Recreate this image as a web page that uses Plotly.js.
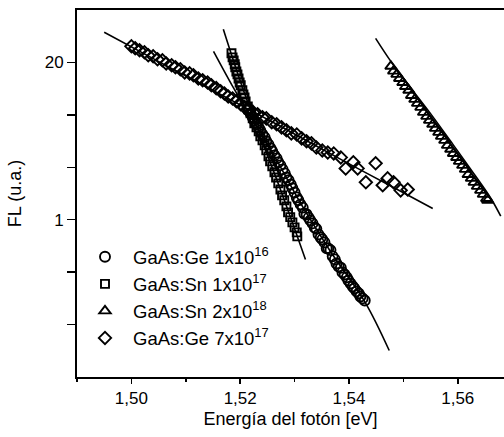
<!DOCTYPE html>
<html>
<head>
<meta charset="utf-8">
<script src="https://cdn.plot.ly/plotly-3.0.1.min.js"></script>
<style>html,body{margin:0;padding:0;background:#fff;}#chart{width:504px;height:437px;}</style>
</head>
<body>
<div id="chart"></div>
<script>
// ---- data ----
const seriesNames = ['GaAs:Ge 1x10<sup>16</sup>', 'GaAs:Sn 1x10<sup>17</sup>', 'GaAs:Sn 2x10<sup>18</sup>', 'GaAs:Ge 7x10<sup>17</sup>'];

// GaAs:Ge 1x10^16 (circles)
const energyGe16 = [1.5215,1.5219,1.5223,1.5226,1.5230,1.5234,1.5237,1.5241,1.5245,1.5248,1.5252,1.5256,1.5259,1.5263,1.5267,1.5270,1.5274,1.5278,1.5282,1.5285,1.5289,1.5293,1.5296,1.5300,1.5304,1.5307,1.5311,1.5315,1.5318,1.5322,1.5326,1.5329,1.5333,1.5337,1.5340,1.5344,1.5348,1.5351,1.5355,1.5359,1.5362,1.5366,1.5370,1.5374,1.5377,1.5381,1.5385,1.5388,1.5392,1.5396,1.5399,1.5403,1.5407,1.5410,1.5414,1.5418,1.5421,1.5425,1.5429];
const flGe16 = [8.05,7.61,7.05,6.65,6.17,5.82,5.50,5.09,4.81,4.46,4.21,3.90,3.68,3.41,3.22,2.99,2.82,2.61,2.42,2.24,2.12,1.96,1.82,1.68,1.53,1.45,1.34,1.26,1.12,1.11,1.04,0.987,0.932,0.863,0.84,0.756,0.713,0.687,0.649,0.58,0.579,0.56,0.497,0.469,0.434,0.410,0.40,0.366,0.352,0.333,0.314,0.296,0.280,0.270,0.255,0.245,0.231,0.223,0.214];

// GaAs:Sn 1x10^17 (squares)
const energySn17 = [1.5184,1.5186,1.5188,1.5190,1.5191,1.5193,1.5195,1.5197,1.5199,1.5201,1.5204,1.5206,1.5208,1.5210,1.5214,1.5215,1.5219,1.5223,1.5226,1.5230,1.5234,1.5237,1.5241,1.5245,1.5248,1.5252,1.5255,1.5259,1.5263,1.5266,1.5270,1.5274,1.5277,1.5281,1.5285,1.5288,1.5292,1.5296,1.5300,1.5304,1.5305];
const flSn17 = [23.9,22.1,20.9,19.4,18.3,16.9,16.0,14.8,13.7,13.0,11.8,10.9,10.3,9.56,8.69,8.21,7.61,6.91,6.28,5.82,5.39,4.90,4.54,4.13,3.75,3.35,3.04,2.77,2.47,2.24,2.00,1.78,1.59,1.45,1.29,1.15,1.05,0.950,0.864,0.785,0.728];

// GaAs:Sn 2x10^18 (triangles)
const energySn18 = [1.5477,1.5482,1.5488,1.5493,1.5499,1.5504,1.5510,1.5515,1.5521,1.5526,1.5532,1.5537,1.5543,1.5548,1.5554,1.5559,1.5565,1.5570,1.5576,1.5581,1.5587,1.5592,1.5598,1.5603,1.5609,1.5614,1.5619,1.5625,1.5630,1.5636,1.5642,1.5647,1.5653,1.5655];
const flSn18 = [18.65,17.0,16.0,14.8,13.7,12.7,11.8,10.7,9.93,9.20,8.53,7.75,7.18,6.65,6.17,5.71,5.29,4.90,4.54,4.13,3.83,3.54,3.28,3.04,2.82,2.61,2.37,2.20,2.04,1.89,1.75,1.62,1.50,1.45];

// GaAs:Ge 7x10^17 (diamonds)
const energyGe7e17 = [1.5000,1.5007,1.5015,1.5024,1.5031,1.5040,1.5048,1.5057,1.5064,1.5074,1.5081,1.5090,1.5098,1.5107,1.5114,1.5123,1.5131,1.5140,1.5147,1.5156,1.5164,1.5171,1.5178,1.5186,1.5193,1.5201,1.5208,1.5215,1.5224,1.5232,1.5241,1.5248,1.5258,1.5267,1.5276,1.5285,1.5294,1.5304,1.5313,1.5322,1.5331,1.5340,1.5351,1.5361,1.5372,1.5385,1.5394,1.5408,1.5416,1.5431,1.5449,1.5462,1.5471,1.5482,1.5495,1.5508];
const flGe7e17 = [27.3,26.3,25.3,24.4,23.0,22.6,21.3,20.9,19.7,19.0,18.3,17.6,16.6,16.3,15.7,14.8,14.3,13.7,13.0,12.3,11.6,11.1,10.5,10.1,9.56,9.03,8.53,8.37,7.75,7.46,7.05,6.91,6.41,6.17,5.82,5.50,5.19,5.09,4.72,4.46,4.29,3.97,3.75,3.61,3.54,3.28,2.66,2.99,2.66,2.04,2.93,1.93,2.20,2.04,1.75,1.78];

// fitted curves
const fitEnergyGe16 = [1.5151,1.5188,1.5219,1.5256,1.5311,1.5366,1.5430,1.5474];
const fitFlGe16 = [24.8,12.3,7.18,3.83,1.37,0.546,0.206,0.0825];
const fitEnergySn17 = [1.5169,1.5201,1.5237,1.5274,1.5320];
const fitFlSn17 = [37.8,13.7,4.90,1.78,0.469];
const fitEnergySn18 = [1.5449,1.5477,1.5514,1.5551,1.5587,1.5624,1.5661,1.5679];
const fitFlSn18 = [31.8,20.5,12.3,7.46,4.46,2.61,1.50,1.07];
const fitEnergyGe7e17 = [1.4950,1.5053,1.5164,1.5274,1.5385,1.5495,1.5554];
const fitFlGe7e17 = [35.7,20.1,10.9,5.94,3.16,1.72,1.24];

// axis ticks
const yTickVals = [1, 20.09];
const yTickText = ['1', '20'];
const yUnlabelledTickVals = [0.1353, 0.3679, 2.718, 7.389];

const FONT = '"Liberation Sans", Arial, sans-serif';

function pts(x, y, name, symbol, size) {
  return {x: x, y: y, name: name, type: 'scatter', mode: 'markers',
    marker: {symbol: symbol, size: size, color: '#000', line: {color: '#000', width: 1.9}},
    showlegend: true};
}
function fit(x, y) {
  return {x: x, y: y, type: 'scatter', mode: 'lines', line: {color: '#000', width: 1.6, shape: 'spline'},
    showlegend: false, hoverinfo: 'skip'};
}

const data = [
  fit(fitEnergyGe16, fitFlGe16),
  fit(fitEnergySn17, fitFlSn17),
  fit(fitEnergySn18, fitFlSn18),
  fit(fitEnergyGe7e17, fitFlGe7e17),
  pts(energyGe16, flGe16, seriesNames[0], 'circle-open', 10),
  pts(energySn17, flSn17, seriesNames[1], 'square-open', 8),
  pts(energySn18, flSn18, seriesNames[2], 'triangle-up-open', 10),
  pts(energyGe7e17, flGe7e17, seriesNames[3], 'diamond-open', 9.5)
];

const layout = {
  width: 504, height: 437,
  margin: {l: 77, r: 0, t: 10, b: 60},
  paper_bgcolor: '#fff', plot_bgcolor: '#fff',
  separators: ', ',
  font: {family: FONT, size: 17, color: '#000'},
  showlegend: true,
  legend: {x: 0, y: 0.378, xanchor: 'left', yanchor: 'top', bgcolor: 'rgba(0,0,0,0)',
    font: {family: FONT, size: 18.5, color: '#000'}, itemwidth: 46, traceorder: 'normal'},
  xaxis: {
    range: [1.49, 1.5685], showgrid: false, zeroline: false,
    showline: true, linecolor: '#000', linewidth: 2, mirror: true,
    ticks: 'outside', ticklen: 5, tickwidth: 1.5, tickcolor: '#000',
    tick0: 1.5, dtick: 0.02, tickformat: '.2f',
    minor: {ticks: 'outside', ticklen: 3, tickwidth: 1.5, tickcolor: '#000', dtick: 0.01, tick0: 1.49, showgrid: false},
    tickfont: {family: FONT, size: 17, color: '#000'},
    title: {text: 'Energía del fotón [eV]', font: {family: FONT, size: 18, color: '#000'}, standoff: 5}
  },
  yaxis: {
    type: 'log', range: [-1.30288, 1.73718], showgrid: false, zeroline: false,
    showline: true, linecolor: '#000', linewidth: 2, mirror: false,
    ticks: 'outside', ticklen: 8, tickwidth: 1.5, tickcolor: '#000',
    tickmode: 'array', tickvals: yTickVals, ticktext: yTickText,
    minor: {ticks: 'outside', ticklen: 8, tickwidth: 1.5, tickcolor: '#000', tickmode: 'array', tickvals: yUnlabelledTickVals, showgrid: false},
    tickfont: {family: FONT, size: 17, color: '#000'},
    title: {text: 'FL (u.a.)', font: {family: FONT, size: 18, color: '#000'}, standoff: 18}
  }
};

Plotly.newPlot('chart', data, layout, {displayModeBar: false, staticPlot: true});
</script>
</body>
</html>
